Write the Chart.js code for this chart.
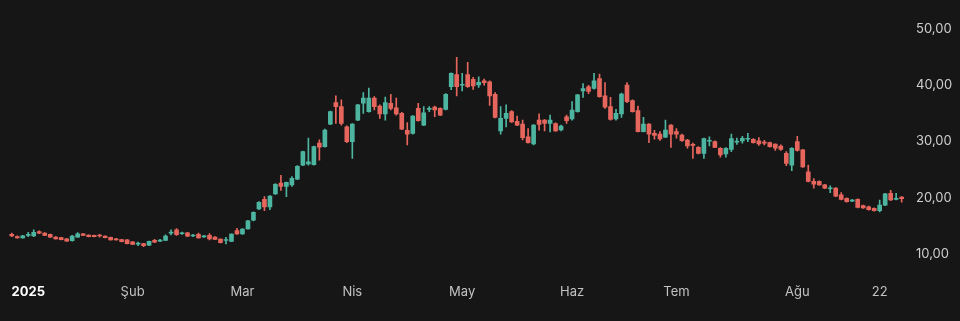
<!DOCTYPE html>
<html lang="tr">
<head>
  <meta charset="UTF-8">
  <title>Fiyat</title>
  <style>
    body {
      margin: 0;
      background-color: #161616;
    }
    .wrap {
      width: 960px;
      height: 321px;
      position: relative;
    }
  </style>
  <script src="https://cdn.jsdelivr.net/npm/chart.js"></script>
</head>
<body>
  <div class="wrap"><canvas id="priceChart"></canvas></div>

  <script>
    // daily candles, 2 Jan 2025 onwards
    const opens = [
      13.5, 13.1, 12.85, 13.3, 13.2, 14.0, 13.7, 13.5, 13.0, 12.9,
      12.7, 12.35, 13.0, 13.6, 13.35, 13.3, 13.3, 13.2, 12.95, 12.7,
      12.55, 12.5, 12.15, 11.75, 11.85, 11.55, 12.45, 12.3, 12.4, 13.7,
      14.3, 13.6, 13.75, 13.2, 13.5, 13.05, 13.3, 13.0, 12.65, 12.4,
      12.25, 14.15, 13.55, 14.45, 16.0, 18.0, 19.7, 18.35, 20.7, 22.6,
      22.0, 22.3, 23.3, 25.8, 26.0, 25.9, 29.7, 29.1, 33.1, 36.9,
      36.2, 32.6, 29.97, 33.8, 36.8, 35.3, 37.7, 36.3, 34.9, 36.8,
      36.0, 35.0, 32.0, 31.45, 35.9, 32.9, 35.7, 36.1, 35.9, 35.7,
      39.75, 41.9, 40.0, 41.9, 41.05, 40.04, 40.8, 40.6, 38.4, 31.9,
      34.1, 35.3, 33.6, 33.1, 30.85, 29.55, 33.8, 33.8, 33.2, 33.2,
      32.05, 34.4, 34.0, 35.3, 39.0, 39.7, 39.45, 41.2, 38.1, 36.2,
      34.0, 34.9, 40.05, 37.26, 35.48, 31.75, 33.1, 31.45, 31.3, 30.75,
      32.9, 31.75, 31.15, 30.27, 29.4, 28.97, 27.9, 30.05, 29.97, 28.8,
      27.8, 28.6, 29.9, 30.1, 30.4, 30.4, 30.1, 29.85, 29.8, 29.55,
      29.2, 27.9, 25.8, 29.97, 28.5, 24.6, 22.9, 22.9, 22.3, 21.6,
      21.7, 20.5, 19.9, 19.4, 19.7, 18.6, 18.4, 18.1, 17.7, 18.7,
      20.8, 19.7, 20.1
    ];
    const highs = [
      13.7, 13.25, 13.3, 13.85, 14.3, 14.1, 13.8, 13.55, 13.1, 12.95,
      12.75, 13.3, 13.8, 13.65, 13.4, 13.35, 13.5, 13.25, 13.0, 12.8,
      12.6, 12.55, 12.2, 12.1, 11.9, 12.3, 12.6, 12.6, 13.4, 14.3,
      14.5, 13.9, 13.85, 13.5, 13.7, 13.3, 13.65, 13.1, 12.7, 12.95,
      13.6, 14.55, 14.5, 16.0, 17.5, 19.3, 20.2, 20.4, 22.5, 24.0,
      22.8, 23.75, 25.7, 28.3, 30.6, 29.2, 30.3, 32.2, 35.4, 38.1,
      37.4, 32.8, 33.2, 36.6, 38.7, 39.5, 38.0, 36.5, 37.9, 38.4,
      37.7, 35.2, 33.35, 34.6, 36.8, 36.2, 36.2, 36.3, 36.0, 38.5,
      42.2, 44.96, 42.1, 44.07, 41.4, 41.5, 41.1, 40.8, 38.7, 36.2,
      36.5, 35.5, 34.5, 33.8, 32.3, 33.0, 34.9, 33.9, 34.7, 33.3,
      32.9, 34.7, 37.1, 38.4, 40.3, 40.0, 42.1, 42.0, 40.46, 37.85,
      35.7, 38.6, 40.46, 37.4, 36.3, 34.3, 33.2, 32.0, 31.75, 33.8,
      33.0, 32.3, 31.3, 30.4, 29.7, 29.1, 30.6, 30.85, 30.1, 28.9,
      28.9, 31.3, 30.6, 30.9, 31.45, 30.5, 30.7, 30.2, 29.9, 29.6,
      29.4, 28.2, 28.9, 30.9, 28.6, 25.8, 23.4, 23.0, 22.4, 22.1,
      21.8, 20.9, 20.0, 19.7, 19.8, 18.7, 18.5, 18.2, 19.6, 20.8,
      21.3, 20.8, 20.2
    ];
    const lows = [
      13.1, 12.8, 12.8, 13.1, 13.1, 13.6, 13.25, 12.95, 12.65, 12.5,
      12.25, 12.3, 12.95, 13.25, 13.05, 13.05, 13.0, 12.85, 12.45, 12.45,
      12.15, 11.8, 11.65, 11.5, 11.3, 11.5, 12.0, 12.2, 12.35, 13.4,
      13.3, 13.5, 13.1, 13.1, 12.8, 12.95, 12.5, 12.55, 11.95, 11.8,
      12.2, 13.5, 13.5, 14.4, 15.9, 17.9, 17.7, 17.9, 20.6, 21.3,
      20.2, 22.0, 23.2, 25.7, 25.8, 25.8, 26.7, 29.0, 33.0, 33.2,
      32.9, 29.8, 27.0, 33.7, 35.0, 35.2, 35.6, 34.1, 33.8, 35.6,
      34.7, 32.1, 29.4, 31.3, 33.6, 32.8, 35.3, 34.4, 34.6, 35.6,
      39.2, 38.1, 39.0, 39.6, 39.27, 39.6, 40.0, 36.4, 34.2, 31.3,
      32.6, 33.4, 32.8, 30.26, 29.7, 29.4, 32.0, 31.9, 31.7, 31.8,
      31.9, 33.2, 33.8, 35.2, 37.85, 38.5, 39.3, 37.9, 35.9, 33.8,
      33.8, 34.3, 36.9, 35.2, 31.7, 31.7, 29.8, 30.4, 30.2, 30.7,
      28.96, 30.6, 30.0, 28.8, 27.0, 27.8, 27.0, 29.2, 28.9, 27.2,
      27.2, 28.2, 29.5, 29.7, 29.97, 29.7, 29.3, 29.4, 29.0, 28.4,
      28.4, 25.7, 24.8, 28.3, 25.4, 22.8, 21.7, 22.2, 21.6, 20.9,
      20.2, 19.6, 19.2, 19.3, 18.2, 18.1, 17.8, 17.6, 17.5, 18.6,
      19.5, 19.6, 19.2
    ];
    const closes = [
      13.2, 12.85, 13.25, 13.4, 13.85, 13.7, 13.3, 13.0, 12.7, 12.55,
      12.3, 13.2, 13.6, 13.3, 13.1, 13.1, 13.2, 12.9, 12.5, 12.5,
      12.2, 11.85, 11.7, 11.9, 11.5, 12.25, 12.1, 12.4, 13.2, 13.9,
      13.45, 13.75, 13.15, 13.35, 12.85, 13.2, 12.7, 12.6, 12.0, 12.5,
      13.55, 13.55, 14.45, 15.9, 17.4, 19.2, 18.35, 20.3, 22.4, 22.0,
      22.75, 23.45, 25.6, 28.2, 26.4, 29.1, 29.0, 32.05, 35.3, 36.2,
      33.2, 29.97, 33.1, 36.5, 37.7, 37.7, 36.2, 34.9, 36.9, 35.9,
      34.9, 32.2, 31.3, 34.5, 33.7, 35.1, 35.8, 35.6, 34.7, 38.4,
      42.1, 39.75, 40.1, 39.75, 39.9, 40.5, 40.45, 38.1, 34.3, 34.1,
      35.0, 33.5, 32.9, 30.7, 29.8, 32.9, 33.05, 33.2, 33.8, 31.9,
      32.75, 33.7, 35.6, 38.3, 39.4, 38.9, 40.8, 37.97, 36.1, 33.94,
      35.0, 38.45, 37.1, 35.3, 31.75, 33.1, 31.3, 31.1, 30.45, 32.05,
      31.3, 31.3, 30.15, 29.2, 29.3, 27.9, 30.5, 30.1, 28.96, 27.6,
      28.8, 30.5, 30.0, 30.56, 30.56, 29.8, 29.55, 29.7, 29.08, 28.8,
      28.6, 26.1, 28.8, 28.4, 25.5, 22.9, 22.4, 22.3, 21.7, 21.75,
      20.3, 19.7, 19.3, 19.5, 18.3, 18.2, 17.9, 17.7, 18.7, 20.7,
      19.6, 19.8, 19.85
    ];

    // where the time labels sit (candle index) and what they say
    const tickIndex = [3, 22, 42, 62, 82, 102, 121, 143, 158];
    const tickText = ['2025', 'Şub', 'Mar', 'Nis', 'May', 'Haz', 'Tem', 'Ağu', '22'];
    const priceTicks = [10, 20, 30, 40, 50];

    const upColor = '#4db5a0';
    const downColor = '#e6665d';
    const colors = closes.map((c, i) => c >= opens[i] ? upColor : downColor);
    const labels = opens.map((_, i) => i);

    const isYear = (c) => c.tick && c.tick.label === '2025';

    const ctx = document.getElementById('priceChart').getContext('2d');
    const priceChart = new Chart(ctx, {
      type: 'bar',
      data: {
        labels: labels,
        datasets: [
          {
            // wicks
            data: lows.map((l, i) => [l, highs[i]]),
            backgroundColor: colors,
            barThickness: 1,
            grouped: false
          },
          {
            // bodies
            data: opens.map((o, i) => [o, closes[i]]),
            backgroundColor: colors,
            barThickness: 4,
            minBarLength: 1,
            grouped: false
          }
        ]
      },
      options: {
        responsive: true,
        maintainAspectRatio: false,
        animation: false,
        layout: {
          padding: { left: 9, right: 0, top: 0, bottom: 13.2 }
        },
        plugins: {
          legend: { display: false },
          tooltip: { enabled: false }
        },
        scales: {
          x: {
            grid: { display: false, drawTicks: false },
            border: { display: false },
            afterFit: (axis) => {
              axis.paddingLeft = 0;
              axis.paddingRight = 0;
            },
            ticks: {
              autoSkip: false,
              maxRotation: 0,
              minRotation: 0,
              padding: 8,
              color: (c) => isYear(c) ? '#ffffff' : '#c2c2c2',
              font: (c) => ({
                family: 'Inter',
                size: 13,
                weight: isYear(c) ? 'bold' : 'normal'
              }),
              callback: (value, index) => {
                const k = tickIndex.indexOf(index);
                return k < 0 ? null : tickText[k];
              }
            }
          },
          y: {
            position: 'right',
            min: 6.053,
            max: 55.156,
            grid: { display: false, drawTicks: false },
            border: { display: false },
            afterBuildTicks: (axis) => {
              axis.ticks = priceTicks.map(v => ({ value: v }));
            },
            afterFit: (axis) => {
              axis.width = 55.6;
              axis.paddingTop = 0;
              axis.paddingBottom = 0;
            },
            ticks: {
              padding: 11.6,
              color: '#cfcfcf',
              font: { family: 'Inter', size: 13 },
              callback: (v) => v.toFixed(2).replace('.', ',')
            }
          }
        }
      }
    });
  </script>
</body>
</html>
